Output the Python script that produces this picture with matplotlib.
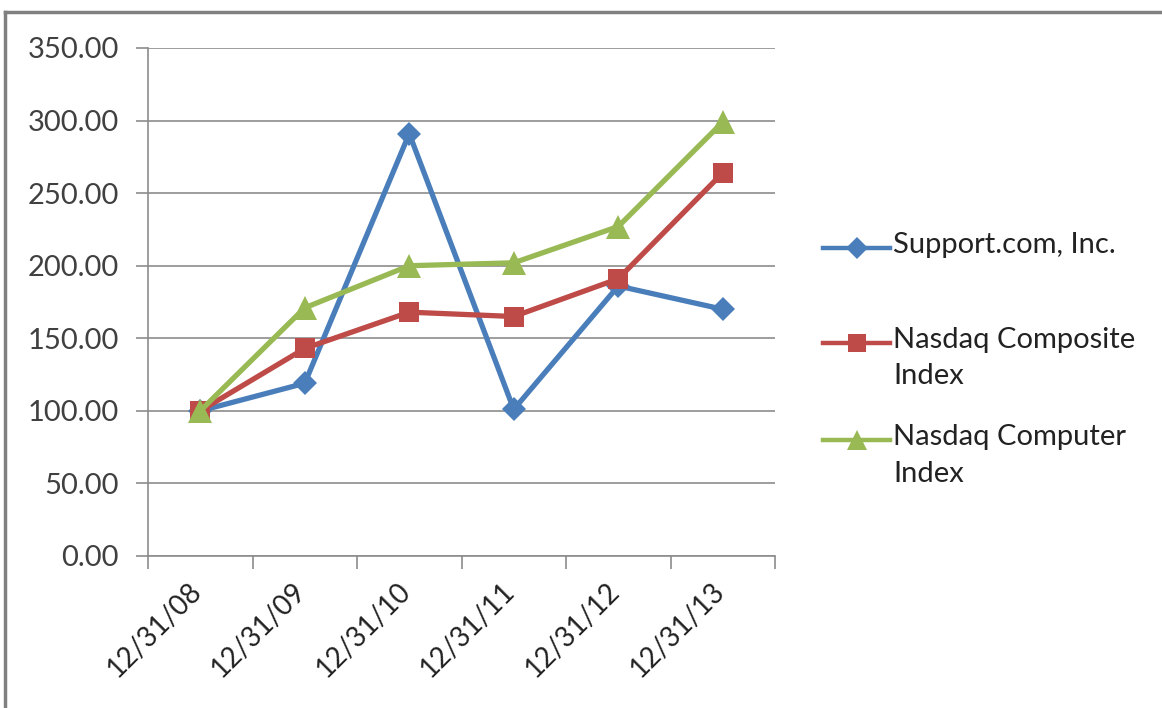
import matplotlib.pyplot as plt
import matplotlib.transforms as mtransforms
from matplotlib.lines import Line2D
from matplotlib.ticker import FormatStrFormatter

# values
dates = ["12/31/08", "12/31/09", "12/31/10", "12/31/11", "12/31/12", "12/31/13"]
support = [100.0, 119.0, 291.0, 101.0, 186.0, 170.0]
nasdaq_composite = [100.0, 143.0, 168.0, 165.0, 191.0, 264.0]
nasdaq_computer = [100.0, 171.0, 200.0, 202.0, 227.0, 299.0]

series_names = ["Support.com, Inc.", "Nasdaq Composite\nIndex", "Nasdaq Computer\nIndex"]
colors = ["#4A7EBB", "#BE4B48", "#98B954"]
markers = ["D", "s", "^"]
marker_sizes = [12, 15, 17]

plt.rcParams["font.family"] = ["Lato", "DejaVu Sans"]

W, H = 1162, 708
fig = plt.figure(figsize=(W / 100, H / 100), dpi=100)
ax = fig.add_axes([148 / W, 1 - 556 / H, (775 - 148) / W, (556 - 48) / H])

x = list(range(len(dates)))
for vals, c, m, ms in zip([support, nasdaq_composite, nasdaq_computer], colors, markers, marker_sizes):
    ax.plot(x, vals, color=c, linewidth=3.8, marker=m, markersize=ms, markeredgewidth=0, zorder=3)

ax.set_xlim(-0.5, len(dates) - 0.5)
ax.set_ylim(0, 350)
ax.set_yticks(range(0, 351, 50))
ax.yaxis.set_major_formatter(FormatStrFormatter("%.2f"))
ax.grid(axis="y", color="#8c8c8c", linewidth=1.2)
ax.set_axisbelow(True)

# category labels at the points, tick marks between categories
ax.set_xticks(x)
ax.set_xticklabels(dates, rotation=45, ha="right", rotation_mode="anchor")
ax.set_xticks([i - 0.5 for i in range(len(dates) + 1)], minor=True)
ax.tick_params(axis="x", which="major", length=0, labelsize=20, pad=16, colors="#222222")
ax.tick_params(axis="x", which="minor", length=9, width=1.2, color="#8c8c8c")
ax.tick_params(axis="y", length=9, width=1.2, color="#8c8c8c", labelsize=21, labelcolor="#404040", pad=12)

shift = mtransforms.ScaledTranslation(-12 / 100, 0, fig.dpi_scale_trans)
for lab in ax.get_xticklabels():
    lab.set_transform(lab.get_transform() + shift)

for side in ["top", "right"]:
    ax.spines[side].set_visible(False)
for side in ["left", "bottom"]:
    ax.spines[side].set_color("#8c8c8c")
    ax.spines[side].set_linewidth(1.2)

# legend drawn by hand, Excel style: handle level with the first text line
legend_rows = [248, 343, 440]
legend_sizes = [11, 13, 15]
for name, c, m, ms, ry in zip(series_names, colors, markers, legend_sizes, legend_rows):
    fig.add_artist(Line2D([823 / W, 890 / W], [1 - ry / H] * 2, transform=fig.transFigure,
                          color=c, linewidth=3.2))
    fig.add_artist(Line2D([857 / W], [1 - ry / H], transform=fig.transFigure, color=c,
                          marker=m, markersize=ms, markeredgewidth=0))
    fig.text(893 / W, 1 - (ry - 16) / H, name, ha="left", va="top", fontsize=21,
             color="#222222", linespacing=1.5)

# outer frame: only top and left edges visible in the reference
fig.add_artist(Line2D([5 / W, 5 / W], [0, 1 - 12 / H], transform=fig.transFigure, color="#808080", linewidth=2.5))
fig.add_artist(Line2D([5 / W, 1], [1 - 12 / H, 1 - 12 / H], transform=fig.transFigure, color="#808080", linewidth=2.5))

fig.savefig("out.png", dpi=100)
